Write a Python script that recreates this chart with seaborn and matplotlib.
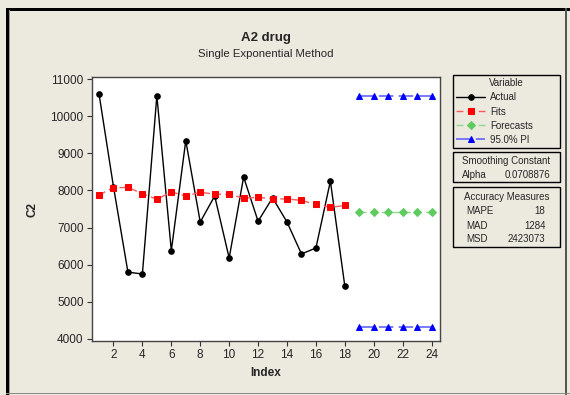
import matplotlib
matplotlib.use("Agg")
import matplotlib.pyplot as plt
import matplotlib.patches as mpatches
import seaborn as sns
import pandas as pd

# Series values
index_obs = list(range(1, 19))
actual = [10600, 8100, 5800, 5750, 10550, 6380, 9340, 7150, 7850,
          6180, 8360, 7170, 7800, 7150, 6290, 6450, 8250, 5420]
fits = [7880, 8075, 8080, 7915, 7760, 7960, 7850, 7950, 7900,
        7895, 7790, 7815, 7775, 7770, 7730, 7625, 7545, 7595]
index_fc = list(range(19, 25))
forecasts = [7430, 7430, 7430, 7430, 7430, 7430]
pi_upper = [10535, 10535, 10535, 10535, 10535, 10535]
pi_lower = [4325, 4325, 4325, 4325, 4325, 4325]

x_ticks = [2, 4, 6, 8, 10, 12, 14, 16, 18, 20, 22, 24]
y_ticks = [4000, 5000, 6000, 7000, 8000, 9000, 10000, 11000]

alpha_value = "0.0708876"
accuracy = [("MAPE", "18"), ("MAD", "1284"), ("MSD", "2423073")]

W, H = 570, 395
BG = "#ECE9DF"

sns.set_theme(style="white")
plt.rcParams["font.family"] = ["Liberation Sans", "DejaVu Sans"]

fig = plt.figure(figsize=(W / 100, H / 100), dpi=100, facecolor=BG)


def fx(x):
    return x / W


def fy(y):
    return 1 - y / H


ax = fig.add_axes([fx(92), fy(341), fx(440) - fx(92), fy(77) - fy(341)])
ax.set_facecolor("white")

df_obs = pd.DataFrame({"Index": index_obs, "Actual": actual, "Fits": fits})
df_fc = pd.DataFrame({"Index": index_fc, "Forecasts": forecasts,
                      "Upper": pi_upper, "Lower": pi_lower})

sns.lineplot(data=df_obs, x="Index", y="Actual", ax=ax, color="black",
             marker="o", markersize=4, markerfacecolor="black",
             markeredgecolor="black", linewidth=1.0, label="Actual")
sns.lineplot(data=df_obs, x="Index", y="Fits", ax=ax, color="#FF5A5A",
             linestyle=(0, (5, 3)), marker="s", markersize=4.5,
             markerfacecolor="red", markeredgecolor="red", linewidth=1.0,
             label="Fits")
sns.lineplot(data=df_fc, x="Index", y="Forecasts", ax=ax, color="#8FD98F",
             linestyle=(0, (5, 3)), marker="D", markersize=4,
             markerfacecolor="#5FCB5F", markeredgecolor="#5FCB5F",
             linewidth=1.0, label="Forecasts")
sns.lineplot(data=df_fc, x="Index", y="Upper", ax=ax, color="#6E6EFF",
             linestyle=(0, (8, 3)), marker="^", markersize=5,
             markerfacecolor="blue", markeredgecolor="blue", linewidth=1.3,
             label="95.0% PI")
sns.lineplot(data=df_fc, x="Index", y="Lower", ax=ax, color="#6E6EFF",
             linestyle=(0, (8, 3)), marker="^", markersize=5,
             markerfacecolor="blue", markeredgecolor="blue", linewidth=1.3,
             legend=False)

ax.set_xlim(0.515, 24.58)
ax.set_ylim(3946, 11054)
ax.set_xticks(x_ticks)
ax.set_yticks(y_ticks)
ax.tick_params(axis="both", direction="out", length=3.5, width=0.8,
               color="#333333", labelsize=8.5, pad=2.5, left=True,
               bottom=True)
for s in ax.spines.values():
    s.set_color("#444444")
    s.set_linewidth(1.0)

ax.set_xlabel("Index", fontsize=8.5, fontweight="bold", labelpad=4)
ax.set_ylabel("C2", fontsize=8.5, fontweight="bold", labelpad=9)

# Titles
fig.text(fx(266), fy(38), "A2 drug", ha="center", va="center",
         fontsize=9.5, fontweight="bold")
fig.text(fx(266), fy(54), "Single Exponential Method", ha="center",
         va="center", fontsize=8.2)

# Legend
leg = ax.legend(loc="upper left",
                bbox_to_anchor=(fx(453), fy(148), fx(560) - fx(453),
                                fy(75) - fy(148)),
                bbox_transform=fig.transFigure, mode="expand",
                title="Variable", fontsize=7, title_fontsize=7,
                frameon=True, fancybox=False, edgecolor="black",
                facecolor=BG, framealpha=1, handlelength=2.9,
                handletextpad=0.6, labelspacing=0.42, borderpad=0.35,
                borderaxespad=0)
leg.get_frame().set_linewidth(1.0)

# Information boxes
for (y0, y1) in [(152, 182), (187, 247)]:
    fig.patches.append(mpatches.Rectangle((fx(453), fy(y1)),
                                          fx(560) - fx(453), fy(y0) - fy(y1),
                                          transform=fig.transFigure,
                                          fill=False, edgecolor="black",
                                          linewidth=1.0))
fig.text(fx(506.5), fy(161), "Smoothing Constant", ha="center",
         va="center", fontsize=7)
fig.text(fx(462), fy(175.5), "Alpha", ha="left", va="center", fontsize=7)
fig.text(fx(550), fy(175.5), alpha_value, ha="right", va="center", fontsize=7)

fig.text(fx(506.5), fy(197.5), "Accuracy Measures", ha="center",
         va="center", fontsize=7)
for i, (name, val) in enumerate(accuracy):
    yy = 211.5 + 14 * i
    fig.text(fx(466.5), fy(yy), name, ha="left", va="center", fontsize=7)
    fig.text(fx(545.5), fy(yy), val, ha="right", va="center", fontsize=7)

# Window frame
frame = [
    ((6, 8), 3, 395, "black"),
    ((6, 8), 564, 2.5, "black"),
    ((9, 10.5), 1, 395, "#9A9A9A"),
    ((565, 8), 1.5, 395, "#555555"),
    ((6, 392.5), 564, 1.5, "#8A8A8A"),
]
for (x0, y0), w, h, c in frame:
    fig.patches.append(mpatches.Rectangle((fx(x0), fy(y0 + h)), fx(w),
                                          h / H, transform=fig.transFigure,
                                          facecolor=c, edgecolor="none"))

fig.savefig("out.png", dpi=100, facecolor=BG)
